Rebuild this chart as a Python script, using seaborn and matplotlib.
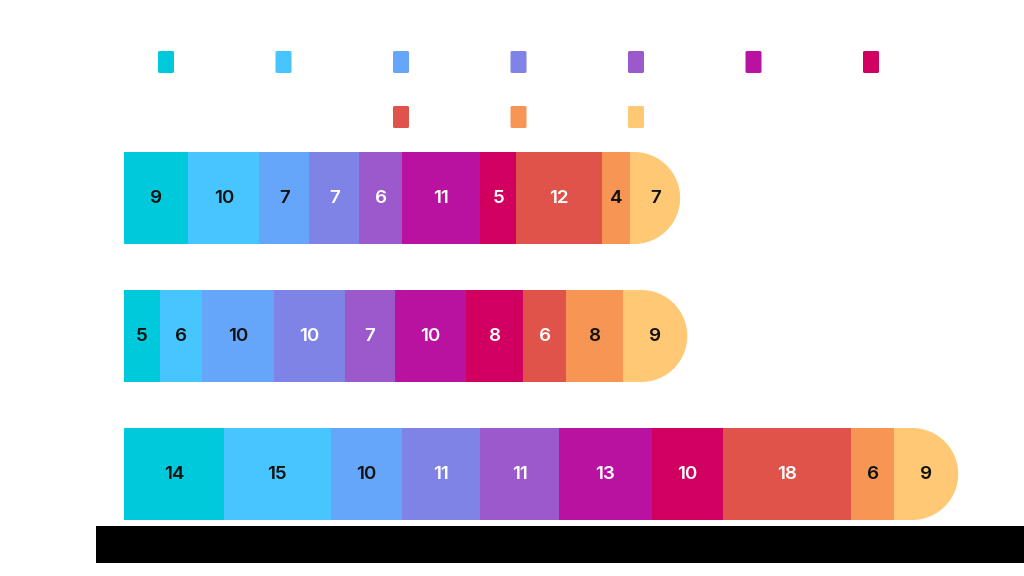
import matplotlib
matplotlib.use("Agg")
import matplotlib.pyplot as plt
import seaborn as sns
import numpy as np
import pandas as pd
from matplotlib.patches import Ellipse, FancyBboxPatch

rows = ["Row 1", "Row 2", "Row 3"]
series = ["Series 1", "Series 2", "Series 3", "Series 4", "Series 5",
          "Series 6", "Series 7", "Series 8", "Series 9", "Series 10"]
row1 = [9, 10, 7, 7, 6, 11, 5, 12, 4, 7]
row2 = [5, 6, 10, 10, 7, 10, 8, 6, 8, 9]
row3 = [14, 15, 10, 11, 11, 13, 10, 18, 6, 9]
colors = ["#00C9DB", "#47C5FF", "#66A6FA", "#8083E6", "#9B59CB",
          "#BA12A0", "#D10060", "#E0534A", "#F79554", "#FFC874"]
dark_label = [True, True, True, False, False, False, False, False, True, True]

sns.set_theme(style="white")
plt.rcParams['font.family'] = ['Inter', 'DejaVu Sans']

values = np.array([row1, row2, row3], dtype=float)
cum = np.cumsum(values, axis=1)

fig = plt.figure(figsize=(10.24, 5.76), dpi=100)
ax = fig.add_axes([124 / 1024, 33 / 576, 900 / 1024, 414 / 576])
xmax = 900 / 7.13
ax.set_xlim(0, xmax)

bar_h = 92 / 138
px_per_unit = 900 / xmax
rx = 46 / px_per_unit

n = len(series)
for j in range(n - 1, -1, -1):
    w = cum[:, j].copy()
    if j == n - 1:
        w = w - rx
    df = pd.DataFrame({"row": rows, "value": w})
    sns.barplot(data=df, x="value", y="row", orient="h", color=colors[j],
                width=bar_h, saturation=1, ax=ax, linewidth=0, zorder=2)
    if j == n - 1:
        for i in range(len(rows)):
            ax.add_patch(Ellipse((cum[i, j] - rx, i), 2 * rx, bar_h,
                                 facecolor=colors[j], edgecolor="none", zorder=2))

for i in range(len(rows)):
    for j in range(n):
        xc = cum[i, j] - values[i, j] / 2
        ax.text(xc, i, f"{int(values[i, j])}", ha="center", va="center",
                fontsize=13.5, fontweight="semibold",
                color="#111111" if dark_label[j] else "white", zorder=5)

ax.set_xlim(0, xmax)
ax.set_ylim(2.5, -0.5)
ax.set_xticks([])
ax.set_yticks([])
ax.set_xlabel("")
ax.set_ylabel("")
for s in ax.spines.values():
    s.set_visible(False)
ax.patch.set_alpha(0)

# legend (squares, white labels)
W, H = 1024, 576
for j in range(n):
    if j < 7:
        cx = 166 + 117.5 * j
        cy = 62
    else:
        cx = 166 + 117.5 * (j - 5)
        cy = 117
    fig.add_artist(FancyBboxPatch(((cx - 8) / W, 1 - (cy + 11) / H), 16 / W, 22 / H,
                                  boxstyle="round,pad=0,rounding_size=0.002",
                                  transform=fig.transFigure, facecolor=colors[j],
                                  edgecolor="none"))
    fig.text((cx + 14) / W, 1 - cy / H, series[j], color="white",
             fontsize=10, va="center", ha="left")

# black band at bottom
bax = fig.add_axes([96 / 1024, 13 / 576, 928 / 1024, 37 / 576])
bax.set_facecolor("black")
bax.set_xticks([])
bax.set_yticks([])
for s in bax.spines.values():
    s.set_visible(False)

fig.savefig("out.png", dpi=100, facecolor="white")
